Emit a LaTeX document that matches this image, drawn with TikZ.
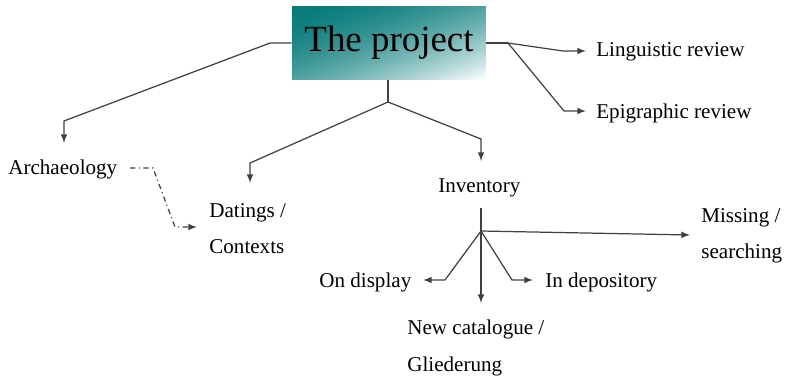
\documentclass[tikz,border=0pt]{standalone}
\usepackage{fontspec}
\setmainfont{Liberation Serif}
\usepackage{tikz}

% teal in the top left corner, white in the bottom right corner
\pgfdeclarefunctionalshading{projshade}{\pgfpoint{0bp}{0bp}}{\pgfpoint{100bp}{100bp}}{}{
  exch 25 sub 50 div exch 75 exch sub 50 div add 2 div
  dup 0 lt {pop 0} if dup 1 gt {pop 1} if
  1.75 exp
  dup 0.97 mul 0.03 add exch
  dup 0.52 mul 0.48 add exch
  0.52 mul 0.48 add
}
\tikzset{
  lbl/.style={anchor=west, inner sep=0pt, font=\fontsize{12}{14}\selectfont},
  conn/.style={draw=black!75, line width=0.7pt},
  arr/.style={conn, -latex}
}

\begin{document}
\begin{tikzpicture}[x=0.02cm,y=-0.02cm]
\useasboundingbox (0,0) rectangle (790,382);
% the project box
\node [minimum width=3.88cm, minimum height=1.46cm, inner sep=0pt,
  shading=projshade, font=\fontsize{21}{24}\selectfont] (proj) at (389,43) {The project};
% labels
\node [lbl] (arch) at (8,169) {Archaeology};
\node [lbl] (dat) at (209,213) {Datings /};
\node [lbl] (ctx) at (209,247) {Contexts};
\node [lbl] (inv) at (438,188) {Inventory};
\node [lbl] (ling) at (596,52) {Linguistic review};
\node [lbl] (epig) at (596,113) {Epigraphic review};
\node [lbl] (miss) at (701,218) {Missing /};
\node [lbl] (srch) at (701,253) {searching};
\node [lbl] (disp) at (319,282) {On display};
\node [lbl] (depo) at (545,282) {In depository};
\node [lbl] (cat) at (407,329) {New catalogue /};
\node [lbl] (glied) at (407,366) {Gliederung};
% bend points
\coordinate (lk) at (270,43);
\coordinate (rk) at (508,43);
\coordinate (bk) at (388,102);
\coordinate (hub) at (481,231);
% top level
\draw [arr] (proj.west |- lk) -- (lk) -- (64,121) -- (64,143);
\draw [conn] (proj.south -| bk) -- (bk);
\draw [arr] (bk) -- (250,163) -- (250,183);
\draw [arr] (bk) -- (481,139) -- (481,161);
\draw [conn] (proj.east |- rk) -- (rk);
\draw [arr, shorten >=10*0.02cm] (rk) -- (563,51) -- (ling.west |- 0,51);
\draw [arr, shorten >=10*0.02cm] (rk) -- (564,111) -- (epig.west |- 0,111);
% archaeology to datings
\draw [arr, dash pattern=on 3pt off 2pt on 0.6pt off 2pt]
  (130,168) -- (153,168) -- (175,227) -- (197,227);
% inventory
\draw [conn] (481,208) -- (hub);
\draw [arr] (hub) -- (690,235);
\draw [arr] (hub) -- (445,280) -- (423,280);
\draw [arr] (hub) -- (481,303);
\draw [arr] (hub) -- (512,280) -- (533,280);
\end{tikzpicture}
\end{document}
